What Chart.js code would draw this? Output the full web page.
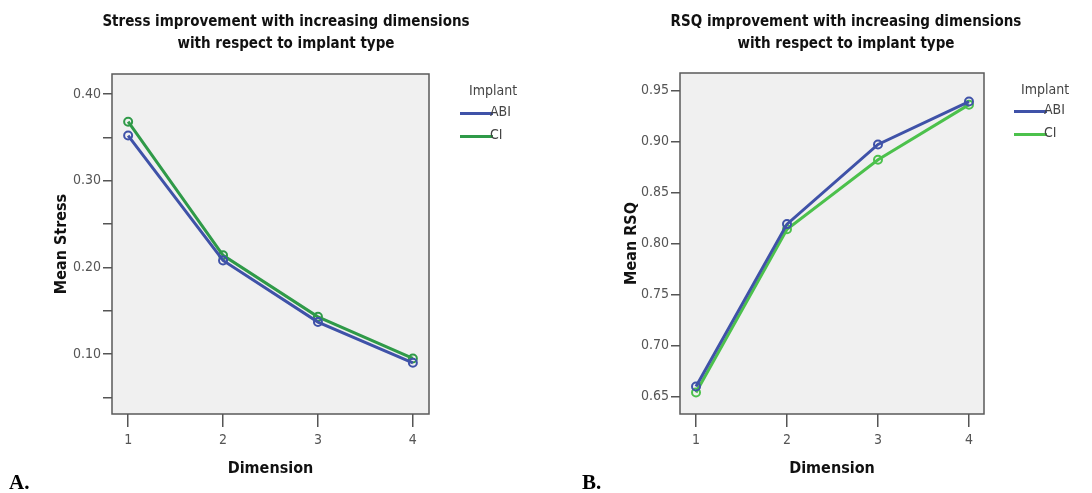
<!DOCTYPE html>
<html>
<head>
<meta charset="utf-8">
<script src="https://cdn.jsdelivr.net/npm/chart.js@4"></script>
<style>
  body { margin: 0; background: #fff; width: 1092px; height: 493px; position: relative; overflow: hidden; }
  .panel { position: absolute; top: 0; width: 546px; height: 493px; }
  .panel canvas { position: absolute; left: 0; top: 0; }
  .title { position: absolute; top: 10px; width: 546px; text-align: center; font: bold 15px 'Liberation Sans Narrow', 'DejaVu Sans Condensed', Arial, sans-serif; line-height: 22px; color: #111; }
  .legend { position: absolute; font: 14px 'Liberation Sans Narrow', 'DejaVu Sans Condensed', Arial, sans-serif; color: #444; }
  .legend .row { position: relative; height: 23px; }
  .legend .swatch { position: absolute; left: 0; top: 10px; width: 33px; height: 3px; }
  .legend .lab { position: absolute; left: 30px; top: 1px; }
  .tag { position: absolute; top: 470px; font: bold 21px 'Liberation Serif', 'Times New Roman', serif; color: #000; }
</style>
</head>
<body>
<div class="panel" style="left:0">
  <canvas id="chartA" width="546" height="493"></canvas>
  <div class="title" style="left:13px">Stress improvement with increasing dimensions<br>with respect to implant type</div>
  <div class="legend" style="left:460px; top:82px">
    <div style="padding-left:9px; height:20px">Implant</div>
    <div class="row"><div class="swatch" style="background:#3f52a8"></div><span class="lab">ABI</span></div>
    <div class="row"><div class="swatch" style="background:#2f9a48"></div><span class="lab">CI</span></div>
  </div>
  <div class="tag" style="left:9px">A.</div>
</div>
<div class="panel" style="left:546px">
  <canvas id="chartB" width="546" height="493"></canvas>
  <div class="title" style="left:27px">RSQ improvement with increasing dimensions<br>with respect to implant type</div>
  <div class="legend" style="left:468px; top:81px">
    <div style="padding-left:7px; height:19px">Implant</div>
    <div class="row"><div class="swatch" style="background:#3f52a8"></div><span class="lab">ABI</span></div>
    <div class="row"><div class="swatch" style="background:#4cc14c"></div><span class="lab">CI</span></div>
  </div>
  <div class="tag" style="left:36px">B.</div>
</div>
<script>
const dimensions = [1, 2, 3, 4];
const stressABI = [0.352, 0.208, 0.137, 0.090];
const stressCI = [0.368, 0.214, 0.143, 0.095];
const rsqABI = [0.660, 0.819, 0.897, 0.939];
const rsqCI = [0.654, 0.814, 0.882, 0.936];

const narrow = "'Liberation Sans Narrow', 'DejaVu Sans Condensed', Arial, sans-serif";

// grey plot background plus a box round it
const plotBox = {
  id: 'plotBox',
  beforeDraw(chart) {
    const { ctx, chartArea: a } = chart;
    ctx.save();
    ctx.fillStyle = '#f0f0f0';
    ctx.fillRect(a.left, a.top, a.right - a.left, a.bottom - a.top);
    ctx.strokeStyle = '#5a5a5a';
    ctx.lineWidth = 1.5;
    ctx.strokeRect(a.left, a.top, a.right - a.left, a.bottom - a.top);
    ctx.restore();
  }
};

function series(label, values, color) {
  return {
    label,
    data: dimensions.map((d, i) => ({ x: d, y: values[i] })),
    borderColor: color,
    backgroundColor: 'rgba(0,0,0,0)',
    borderWidth: 3,
    pointRadius: 4,
    pointBorderWidth: 2,
    pointBorderColor: color,
    tension: 0
  };
}

function makeChart(id, datasets, opt) {
  new Chart(document.getElementById(id), {
    type: 'line',
    data: { datasets },
    plugins: [plotBox],
    options: {
      responsive: false,
      animation: false,
      layout: { padding: { left: 0, top: opt.top, right: opt.right, bottom: 15 } },
      plugins: { legend: { display: false }, tooltip: { enabled: false } },
      scales: {
        x: {
          type: 'linear',
          min: opt.xMin,
          max: opt.xMax,
          afterBuildTicks: s => { s.ticks = dimensions.map(v => ({ value: v })); },
          afterFit: s => { s.height = 64; },
          border: { display: false },
          grid: { drawOnChartArea: false, drawTicks: true, tickLength: 13, color: '#555', lineWidth: 1.5 },
          ticks: { color: '#555', padding: 5, font: { family: narrow, size: 14 } },
          title: { display: true, text: 'Dimension', color: '#111', padding: { top: 2, bottom: 0 }, font: { family: narrow, size: 16, weight: 'bold' } }
        },
        y: {
          min: opt.yMin,
          max: opt.yMax,
          afterBuildTicks: s => { s.ticks = opt.yTicks.map(v => ({ value: v })); },
          afterFit: s => { s.width = opt.yWidth; },
          border: { display: false },
          grid: { drawOnChartArea: false, drawTicks: true, tickLength: 9, color: '#555', lineWidth: 1.5 },
          ticks: {
            color: '#555', padding: 2, font: { family: narrow, size: 14 },
            callback: v => opt.yLabel(v)
          },
          title: { display: true, text: opt.yTitle, color: '#111', padding: { top: opt.titleLeft, bottom: 0 }, font: { family: narrow, size: 16, weight: 'bold' } }
        }
      }
    }
  });
}

const stressTicks = [0.05, 0.10, 0.15, 0.20, 0.25, 0.30, 0.35, 0.40];
const rsqTicks = [0.65, 0.70, 0.75, 0.80, 0.85, 0.90, 0.95];

makeChart('chartA', [series('ABI', stressABI, '#3f52a8'), series('CI', stressCI, '#2f9a48')], {
  top: 74, right: 117, yWidth: 112, xMin: 0.83, xMax: 4.17,
  yMin: 0.031, yMax: 0.423, yTicks: stressTicks, yTitle: 'Mean Stress', titleLeft: 52,
  yLabel: v => (Math.round(v * 100) % 10 === 0 ? v.toFixed(2) : '')
});

makeChart('chartB', [series('ABI', rsqABI, '#3f52a8'), series('CI', rsqCI, '#4cc14c')], {
  top: 73, right: 108, yWidth: 134, xMin: 0.824, xMax: 4.165,
  yMin: 0.633, yMax: 0.967, yTicks: rsqTicks, yTitle: 'Mean RSQ', titleLeft: 76,
  yLabel: v => v.toFixed(2)
});
</script>
</body>
</html>
